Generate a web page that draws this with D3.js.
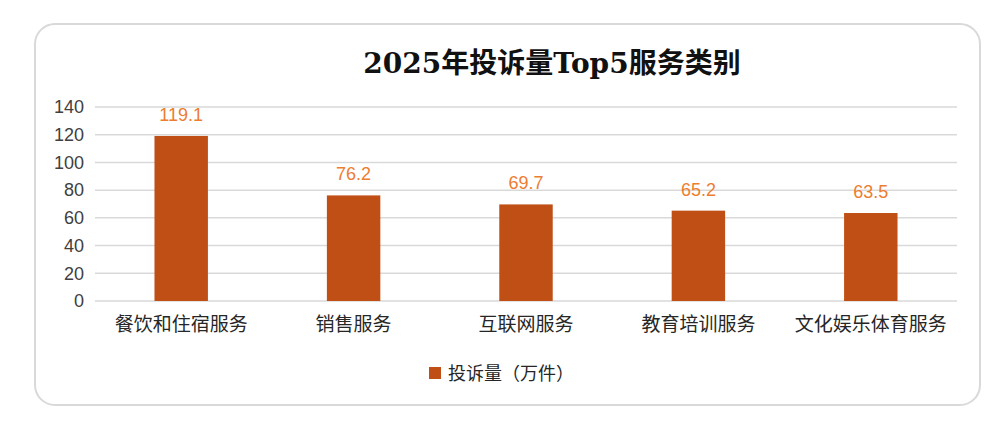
<!DOCTYPE html>
<html>
<head>
<meta charset="utf-8">
<script src="https://cdn.jsdelivr.net/npm/d3@7"></script>
<style>
  body { margin: 0; background: #fff; }
  svg { display: block; }
</style>
</head>
<body>
<div id="chart"></div>
<script>
// data
var categories = ["餐饮和住宿服务", "销售服务", "互联网服务", "教育培训服务", "文化娱乐体育服务"];
var complaints = [119.1, 76.2, 69.7, 65.2, 63.5];
var yTicks = [0, 20, 40, 60, 80, 100, 120, 140];
var seriesName = "投诉量（万件）";
var titleText = "2025年投诉量Top5服务类别";

var W = 1004, H = 428;
var margin = { left: 95, right: 47, top: 107, bottom: 127 };

var svg = d3.select("#chart").append("svg")
    .attr("width", W)
    .attr("height", H);

// outer frame
svg.append("rect")
    .attr("x", 35).attr("y", 24)
    .attr("width", 945).attr("height", 381)
    .attr("rx", 20).attr("ry", 20)
    .attr("fill", "#fff")
    .attr("stroke", "#d9d9d9")
    .attr("stroke-width", 2);

svg.append("text")
    .attr("x", 552).attr("y", 73)
    .attr("text-anchor", "middle")
    .attr("font-family", "'DejaVu Serif', 'Noto Sans CJK SC', serif")
    .attr("font-size", 28)
    .attr("font-weight", 600)
    .attr("fill", "#111")
    .text(titleText);

var x = d3.scaleBand()
    .domain(categories)
    .range([margin.left, W - margin.right])
    .paddingInner(0.69)
    .paddingOuter(0.345);

var y = d3.scaleLinear()
    .domain([0, 140])
    .range([H - margin.bottom, margin.top]);

// gridlines
svg.append("g")
    .selectAll("line")
    .data(yTicks)
    .enter().append("line")
    .attr("x1", margin.left)
    .attr("x2", W - margin.right)
    .attr("y1", d => y(d))
    .attr("y2", d => y(d))
    .attr("stroke", "#d9d9d9")
    .attr("stroke-width", 1.5);

// y axis labels
var yAxis = svg.append("g")
    .attr("transform", "translate(" + (margin.left - 11) + ",0)")
    .call(d3.axisLeft(y).tickValues(yTicks).tickSize(0).tickPadding(0));
yAxis.select(".domain").remove();
yAxis.selectAll("text")
    .attr("font-family", "'Liberation Sans', Arial, sans-serif")
    .attr("font-size", 18)
    .attr("fill", "#404040");

// bars
svg.append("g")
    .selectAll("rect")
    .data(complaints)
    .enter().append("rect")
    .attr("x", (d, i) => x(categories[i]))
    .attr("y", d => y(d))
    .attr("width", x.bandwidth())
    .attr("height", d => y(0) - y(d))
    .attr("fill", "#c04f15");

// value labels
svg.append("g")
    .selectAll("text")
    .data(complaints)
    .enter().append("text")
    .attr("x", (d, i) => x(categories[i]) + x.bandwidth() / 2)
    .attr("y", d => y(d) - 15)
    .attr("text-anchor", "middle")
    .attr("font-family", "'Liberation Sans', Arial, sans-serif")
    .attr("font-size", 18)
    .attr("fill", "#ed7d31")
    .text(d => d.toFixed(1));

// x axis labels
var xAxis = svg.append("g")
    .attr("transform", "translate(0," + y(0) + ")")
    .call(d3.axisBottom(x).tickSize(0).tickPadding(17));
xAxis.select(".domain").remove();
xAxis.selectAll("text")
    .attr("font-family", "'Noto Sans CJK SC', sans-serif")
    .attr("font-size", 19)
    .attr("fill", "#262626");

// legend
var legend = svg.append("g").attr("transform", "translate(429,367)");
legend.append("rect")
    .attr("width", 12).attr("height", 12)
    .attr("fill", "#c04f15");
legend.append("text")
    .attr("x", 19).attr("y", 13)
    .attr("font-family", "'Noto Sans CJK SC', sans-serif")
    .attr("font-size", 18)
    .attr("fill", "#262626")
    .text(seriesName);
</script>
</body>
</html>
